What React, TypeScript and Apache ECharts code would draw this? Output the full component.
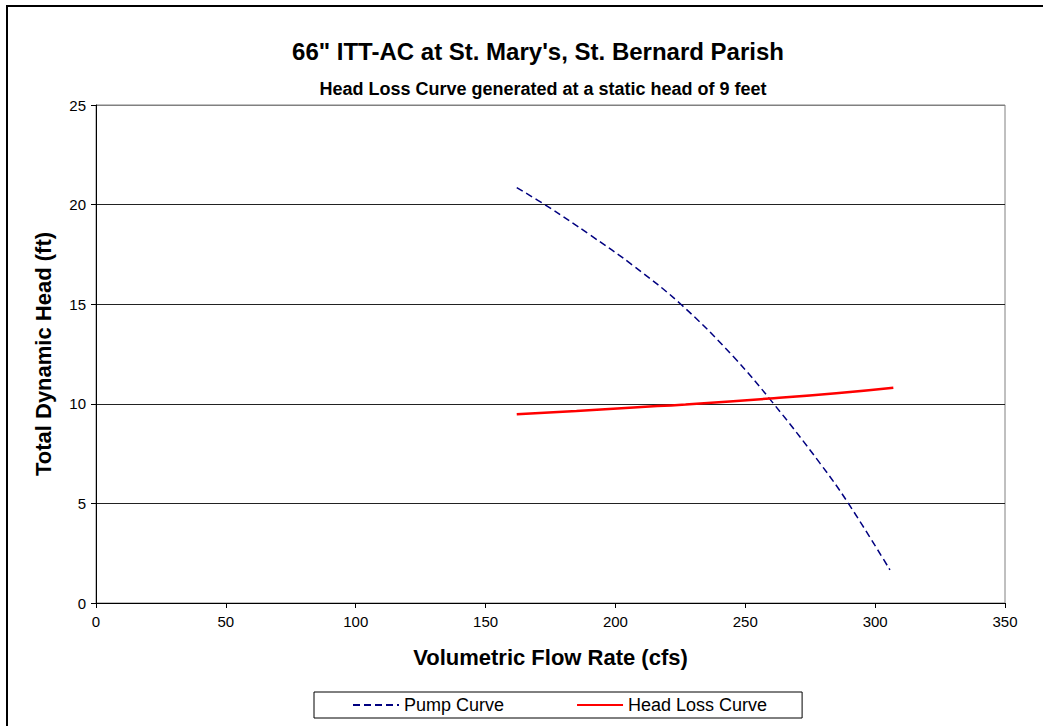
import React, { useEffect, useRef } from "react";
import * as echarts from "echarts";

const pumpCurve: [number, number][] = [
  [162, 20.85], [174, 19.9], [190, 18.5], [207, 16.92], [225.5, 14.96], [245.4, 12.37],
  [260.8, 10.02], [278.8, 7.01], [289.7, 5.0], [305.7, 1.66],
];
const headLossCurve: [number, number][] = [
  [162, 9.47], [185, 9.64], [207, 9.82], [227, 9.97], [261, 10.28], [285, 10.53], [307, 10.81],
];
const titleText = "66\" ITT-AC at St. Mary's, St. Bernard Parish";
const subtitleText = "Head Loss Curve generated at a static head of 9 feet";
const xName = "Volumetric Flow Rate (cfs)";
const yName = "Total Dynamic Head (ft)";

const FONT = "'Liberation Sans', Arial, sans-serif";

export default function App() {
  const ref = useRef<HTMLDivElement>(null);
  useEffect(() => {
    const chart = echarts.init(ref.current!, undefined, { renderer: "svg" });
    chart.setOption({
      animation: false,
      backgroundColor: "#fff",
      textStyle: { fontFamily: FONT },
      title: [
        {
          text: titleText,
          left: 533,
          top: 34,
          textAlign: "center",
          textStyle: { fontFamily: FONT, fontSize: 24, fontWeight: "bold", color: "#000" },
        },
        {
          text: subtitleText,
          left: 538,
          top: 75,
          textAlign: "center",
          textStyle: { fontFamily: FONT, fontSize: 18, fontWeight: "bold", color: "#000" },
        },
      ],
      grid: {
        left: 96, top: 105, right: 46, bottom: 123,
        show: true, borderColor: "#808080", borderWidth: 1, backgroundColor: "transparent",
      },
      xAxis: {
        type: "value", min: 0, max: 350, interval: 50,
        name: xName, nameLocation: "middle", nameGap: 43,
        nameTextStyle: { fontFamily: FONT, fontSize: 22, fontWeight: "bold", color: "#000" },
        axisLine: { show: true, lineStyle: { color: "#000", width: 1 } },
        axisTick: { show: true, length: 5, lineStyle: { color: "#000" } },
        axisLabel: { fontFamily: FONT, fontSize: 15, color: "#000", margin: 11 },
        splitLine: { show: false },
      },
      yAxis: {
        type: "value", min: 0, max: 25, interval: 5,
        name: yName, nameLocation: "middle", nameGap: 42,
        nameTextStyle: { fontFamily: FONT, fontSize: 22, fontWeight: "bold", color: "#000" },
        axisLine: { show: true, lineStyle: { color: "#000", width: 1 } },
        axisTick: { show: true, length: 5, lineStyle: { color: "#000" } },
        axisLabel: { fontFamily: FONT, fontSize: 15, color: "#000", margin: 10 },
        splitLine: {
          show: true,
          lineStyle: { color: ["#000", "#222", "#222", "#222", "#222", "#808080"], width: 1 },
        },
      },
      legend: {
        left: 314, top: 692,
        orient: "horizontal",
        borderColor: "#000", borderWidth: 1,
        padding: [4, 35, 4, 38],
        itemGap: 72, itemWidth: 46, itemHeight: 14,
        itemStyle: { opacity: 0, color: "transparent", borderColor: "transparent", borderWidth: 0 },
        textStyle: { fontFamily: FONT, fontSize: 18, color: "#000" },
        data: ["Pump Curve", "Head Loss Curve"],
      },
      series: [
        {
          name: "Pump Curve", type: "line", data: pumpCurve, smooth: 0.4,
          symbol: "none", color: "#000080",
          lineStyle: { color: "#000080", width: 1.5, type: [7, 4] },
        },
        {
          name: "Head Loss Curve", type: "line", data: headLossCurve, smooth: true,
          symbol: "none", color: "#ff0000",
          lineStyle: { color: "#ff0000", width: 2.5 },
        },
      ],
      graphic: [
        { type: "line", shape: { x1: 6, y1: 6, x2: 1043, y2: 6 }, style: { stroke: "#000", lineWidth: 2 } },
        { type: "line", shape: { x1: 7, y1: 5, x2: 7, y2: 726 }, style: { stroke: "#000", lineWidth: 2 } },
      ],
    });
    return () => chart.dispose();
  }, []);
  return (
    <div
      ref={ref}
      style={{ position: "fixed", left: 0, top: 0, width: 1051, height: 726 }}
    />
  );
}
